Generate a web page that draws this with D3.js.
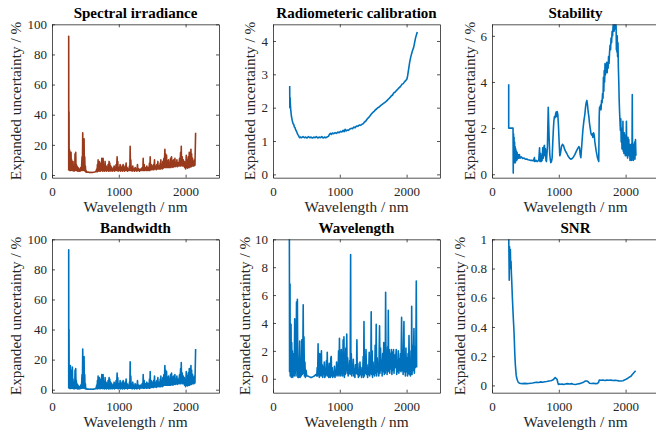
<!DOCTYPE html>
<html lang="en">
<head>
<meta charset="UTF-8">
<title>Expanded uncertainty components</title>
<script src="https://d3js.org/d3.v7.min.js"></script>
<style>
  body { margin: 0; background: #fff; }
  svg { display: block; }
  .axis path, .axis line { stroke: #262626; stroke-width: 0.8; fill: none; }
  .title { font-weight: bold; font-size: 15px; fill: #000; }
  .label { font-size: 15.3px; fill: #262626; }
</style>
</head>
<body>
<svg id="chart" width="656" height="434"></svg>
<script>
const serif = "'Liberation Serif', 'Times New Roman', Times, serif";
const xTicks = [0, 1000, 2000];
const ticksPercent = [0, 20, 40, 60, 80, 100];
const ticksCal = [0, 1, 2, 3, 4];
const ticksStab = [0, 2, 4, 6];
const ticksWl = [0, 2, 4, 6, 8, 10];
const ticksSnr = [0, 0.2, 0.4, 0.6, 0.8, 1];

// [wavelength nm, expanded uncertainty %]
const spectralIrradiance = [[250,3],[250,92],[252,5],[255,42],[257,4],[260,17],[263,3],[266,16],[270,5],[275,14],[280,3],[285,15],[290,4],[295,10],[300,3],[305,8],[310,3],[315,9],[320,3],[325,5],[330,2.5],[335,6],[340,3],[345,14],[350,3],[355,15],[360,4],[365,7],[370,3],[375,6],[380,2.5],[390,5],[400,2.5],[410,4],[420,2.5],[430,5],[440,3],[450,12],[455,3],[460,28],[465,5],[470,20],[475,3],[480,24],[485,4],[490,12],[495,2.5],[500,6],[505,2],[510,3],[520,1.8],[540,2],[560,1.6],[580,1.8],[600,1.6],[620,1.8],[640,2],[660,2.5],[670,4],[675,2],[680,7],[685,2.5],[690,10],[695,3],[700,5],[705,2.5],[710,9],[715,3],[720,6],[725,2.5],[735,8],[740,3],[745,11],[750,3],[755,6],[760,2.5],[765,11],[770,3],[780,5],[785,2.5],[795,9],[800,3],[810,6],[815,2.5],[825,5],[830,3],[840,7],[845,2.5],[855,9],[860,3],[865,8],[870,2.5],[880,6],[885,3],[895,5],[900,2.5],[910,4],[920,3],[930,6],[935,2.5],[945,5],[950,3],[960,7],[965,3],[975,12],[980,3],[985,9],[990,2.5],[1000,5],[1010,3],[1020,7],[1025,2.5],[1035,5],[1040,3],[1050,6],[1055,2.5],[1065,7],[1070,3],[1080,5],[1085,2.5],[1095,6],[1100,3],[1110,8],[1115,3],[1125,5],[1130,2.5],[1140,4],[1150,3],[1160,6],[1165,3],[1170,19],[1175,3],[1180,10],[1185,3],[1195,5],[1200,2.5],[1210,6],[1215,3],[1225,4],[1235,2.5],[1245,5],[1250,3],[1265,4],[1270,2.5],[1280,7],[1285,3],[1300,4],[1310,2.5],[1325,4],[1335,3],[1350,5],[1360,3],[1365,11],[1370,3],[1380,7],[1385,3],[1400,5],[1410,3],[1420,6],[1425,3],[1440,5],[1450,3],[1460,8],[1465,3],[1470,12],[1475,3.5],[1485,7],[1490,3.5],[1500,6],[1510,3.5],[1520,7],[1525,3.5],[1535,10],[1540,4],[1550,6],[1560,3.5],[1570,7],[1575,4],[1585,9],[1590,4],[1600,6],[1610,4],[1620,8],[1625,4],[1630,10],[1635,4.5],[1645,7],[1650,4],[1660,9],[1665,4.5],[1675,11],[1680,5],[1690,17],[1695,5],[1700,14],[1705,5],[1715,13],[1720,5],[1730,9],[1735,5],[1745,10],[1750,5],[1760,8],[1765,5],[1775,11],[1780,5],[1790,12],[1795,5.5],[1805,9],[1810,5],[1820,10],[1825,5.5],[1840,11],[1845,5.5],[1855,8],[1860,6],[1870,10],[1875,5.5],[1890,8],[1895,6],[1910,11],[1915,6],[1925,15],[1930,6],[1935,19],[1940,7],[1950,12],[1955,6],[1965,10],[1970,6],[1980,9],[1985,5],[1995,8],[2000,4],[2010,13],[2015,5],[2025,10],[2030,4.5],[2040,12],[2045,5],[2055,15],[2060,5],[2065,10],[2070,5.5],[2080,17],[2085,5.5],[2090,14],[2095,6],[2105,11],[2110,6],[2120,9],[2125,6],[2135,10],[2140,6.5],[2150,28]];

const radiometricCalibration = [[250,2.65],[252,2.0],[256,2.3],[260,2.1],[265,1.95],[270,1.85],[275,1.75],[282,1.68],[290,1.6],[300,1.52],[310,1.5],[320,1.42],[330,1.4],[340,1.33],[350,1.3],[360,1.25],[370,1.2],[380,1.17],[390,1.13],[400,1.1],[410,1.12],[430,1.1],[450,1.13],[470,1.1],[490,1.12],[510,1.09],[530,1.13],[550,1.1],[570,1.12],[590,1.09],[610,1.12],[630,1.1],[650,1.13],[670,1.09],[690,1.12],[710,1.1],[730,1.13],[750,1.09],[770,1.12],[790,1.1],[810,1.12],[830,1.14],[845,1.2],[860,1.23],[875,1.2],[890,1.24],[910,1.22],[930,1.25],[950,1.23],[970,1.27],[990,1.25],[1010,1.29],[1030,1.27],[1050,1.32],[1065,1.28],[1080,1.35],[1095,1.3],[1110,1.33],[1130,1.32],[1150,1.36],[1170,1.38],[1190,1.37],[1210,1.42],[1230,1.4],[1250,1.45],[1270,1.44],[1290,1.48],[1310,1.47],[1330,1.5],[1350,1.52],[1370,1.57],[1390,1.6],[1410,1.66],[1430,1.7],[1450,1.75],[1470,1.8],[1490,1.85],[1510,1.88],[1530,1.93],[1550,1.96],[1570,2.0],[1590,2.02],[1610,2.06],[1630,2.09],[1650,2.12],[1670,2.15],[1690,2.18],[1710,2.22],[1730,2.26],[1750,2.3],[1770,2.35],[1790,2.38],[1810,2.45],[1830,2.47],[1850,2.52],[1870,2.56],[1890,2.6],[1910,2.64],[1930,2.7],[1950,2.72],[1970,2.78],[1990,2.82],[2005,2.86],[2015,2.95],[2030,3.15],[2045,3.35],[2060,3.5],[2075,3.62],[2090,3.72],[2105,3.8],[2120,3.95],[2135,4.1],[2150,4.2],[2160,4.27]];

const stability = [[250,3.9],[250,2.0],[315,2.0],[318,0.05],[322,1.75],[326,0.6],[330,1.6],[334,0.5],[338,1.4],[342,0.6],[346,1.2],[350,0.5],[355,1.1],[360,0.6],[365,1.0],[370,0.6],[375,0.95],[380,0.65],[390,0.85],[400,0.7],[410,0.85],[420,0.7],[440,0.75],[460,0.68],[480,0.7],[500,0.65],[520,0.66],[540,0.63],[560,0.62],[580,0.6],[600,0.6],[620,0.58],[635,0.72],[640,0.55],[660,0.6],[675,0.55],[700,0.6],[712,1.15],[718,0.55],[728,0.9],[735,0.55],[750,0.6],[760,1.15],[768,0.7],[778,1.2],[785,1.25],[792,0.8],[800,1.1],[808,0.6],[815,0.55],[830,1.2],[842,2.9],[848,2.3],[856,1.5],[864,0.9],[872,0.65],[880,0.5],[890,0.55],[900,0.7],[910,1.4],[918,1.9],[926,2.3],[935,2.5],[945,2.45],[952,2.6],[960,2.7],[968,2.5],[975,2.72],[985,2.6],[995,2.1],[1005,1.4],[1015,0.8],[1025,0.9],[1040,1.2],[1055,1.3],[1070,1.25],[1085,1.1],[1100,1.0],[1120,0.9],[1140,0.78],[1160,0.7],[1180,0.65],[1200,0.68],[1220,0.75],[1240,0.85],[1260,0.98],[1280,1.1],[1300,1.2],[1310,1.15],[1320,0.85],[1330,0.72],[1345,1.3],[1360,1.9],[1375,2.3],[1390,2.6],[1400,2.9],[1410,3.1],[1420,3.2],[1430,3.0],[1440,2.7],[1450,2.5],[1460,2.2],[1470,2.0],[1480,1.8],[1490,1.7],[1500,1.75],[1510,1.6],[1520,1.8],[1530,1.7],[1540,1.4],[1550,1.2],[1560,1.0],[1570,0.85],[1580,0.7],[1590,0.62],[1598,0.55],[1605,2.5],[1610,2.9],[1618,2.8],[1625,3.0],[1632,2.8],[1640,3.2],[1648,3.1],[1655,3.5],[1662,3.3],[1668,4.2],[1674,3.6],[1680,4.5],[1686,4.0],[1692,4.8],[1698,4.3],[1705,4.6],[1712,4.5],[1718,4.85],[1724,4.4],[1730,4.8],[1738,4.6],[1745,5.1],[1752,4.8],[1760,5.3],[1768,5.6],[1775,5.4],[1782,5.9],[1790,5.7],[1798,6.2],[1805,6.0],[1812,6.4],[1820,6.6],[1828,6.2],[1835,6.5],[1842,6.3],[1850,6.6],[1858,6.4],[1862,5.4],[1866,6.0],[1870,5.3],[1875,6.0],[1880,5.1],[1886,5.7],[1892,4.6],[1898,4.0],[1904,3.2],[1910,2.7],[1916,2.3],[1922,1.9],[1928,2.4],[1934,1.4],[1940,2.0],[1946,1.1],[1950,1.8],[1956,1.2],[1960,2.3],[1965,1.0],[1970,1.6],[1975,0.9],[1980,1.8],[1985,1.1],[1990,1.5],[1996,0.8],[2000,1.7],[2006,1.0],[2012,2.3],[2018,0.8],[2024,1.4],[2030,0.7],[2036,1.6],[2042,1.0],[2048,1.5],[2054,0.8],[2060,1.3],[2066,0.6],[2072,1.2],[2078,0.7],[2084,1.3],[2090,0.6],[2096,1.0],[2100,3.45],[2104,0.7],[2110,1.2],[2116,0.6],[2122,1.3],[2128,0.8],[2135,1.4],[2140,0.65],[2148,1.5],[2155,0.8]];

const bandwidth = [[250,1],[250,93],[252,2],[255,40],[257,1],[260,16],[263,0.8],[266,14],[270,2],[275,16],[280,0.8],[285,13],[290,1.5],[295,9],[300,0.8],[305,15],[310,1],[315,7],[320,0.8],[325,4],[330,0.5],[335,5],[340,1],[345,13],[350,0.8],[355,14],[360,2],[365,6],[370,0.8],[375,4],[380,0.5],[390,3],[400,0.5],[410,2],[420,0.6],[430,3],[440,1],[450,10],[455,1],[460,27],[465,3],[470,18],[475,1],[480,22],[485,2],[490,10],[495,0.6],[500,4],[505,0.5],[510,1],[520,0.4],[540,0.5],[560,0.3],[580,0.4],[600,0.3],[620,0.4],[640,0.5],[660,1],[670,3],[675,0.5],[680,6],[685,0.8],[690,9],[695,1],[700,4],[705,0.6],[710,8],[715,1],[720,5],[725,0.6],[735,7],[740,1],[745,10],[750,1],[755,5],[760,0.6],[765,10],[770,1],[780,4],[785,0.5],[795,8],[800,1],[810,5],[815,0.5],[825,4],[830,1],[840,6],[845,0.5],[855,8],[860,1],[865,7],[870,0.5],[880,5],[885,1],[895,4],[900,0.5],[910,3],[920,1],[930,5],[935,0.5],[945,4],[950,1],[960,6],[965,1],[975,11],[980,1],[985,8],[990,0.5],[1000,4],[1010,1],[1020,6],[1025,0.5],[1035,4],[1040,1],[1050,5],[1055,0.5],[1065,6],[1070,1],[1080,4],[1085,0.5],[1095,5],[1100,1],[1110,7],[1115,1],[1125,4],[1130,0.5],[1140,3],[1150,1],[1160,5],[1165,1],[1170,18.5],[1175,1],[1180,9],[1185,1],[1195,4],[1200,0.5],[1210,5],[1215,1],[1225,3],[1235,0.5],[1245,4],[1250,1],[1265,3],[1270,0.5],[1280,6],[1285,1],[1300,3],[1310,0.5],[1325,3],[1335,1],[1350,4],[1360,1],[1365,10],[1370,1],[1380,6],[1385,1],[1400,4],[1410,1],[1420,5],[1425,1],[1440,4],[1450,1],[1460,7],[1465,1],[1470,12],[1475,1.5],[1485,6],[1490,1.5],[1500,5],[1510,1.5],[1520,6],[1525,1.5],[1535,9],[1540,2],[1550,5],[1560,1.5],[1570,6],[1575,2],[1585,8],[1590,2],[1600,5],[1610,2],[1620,7],[1625,2],[1630,9],[1635,2.5],[1645,6],[1650,2],[1660,8],[1665,2.5],[1675,10],[1680,3],[1690,16],[1695,3],[1700,13],[1705,3],[1715,12],[1720,3],[1730,8],[1735,3],[1745,9],[1750,3],[1760,7],[1765,3],[1775,10],[1780,3],[1790,11],[1795,3.5],[1805,8],[1810,3],[1820,9],[1825,3.5],[1840,10],[1845,3.5],[1855,7],[1860,4],[1870,9],[1875,3.5],[1890,7],[1895,4],[1910,10],[1915,4],[1925,14],[1930,4],[1935,18],[1940,5],[1950,11],[1955,4],[1965,9],[1970,4],[1980,8],[1985,3],[1995,7],[2000,2],[2010,12],[2015,3],[2025,9],[2030,2.5],[2040,11],[2045,3],[2055,14],[2060,3],[2065,9],[2070,3.5],[2080,16],[2085,3.5],[2090,13],[2095,4],[2105,10],[2110,4],[2120,8],[2125,4],[2135,9],[2140,4.5],[2150,27]];

const wavelengthUnc = [[245,10.5],[248,0.5],[252,3.9],[255,6.8],[258,0.2],[262,2.5],[266,0.3],[270,3.9],[275,0.1],[280,2.6],[285,0.4],[290,2.0],[295,0.1],[300,1.8],[305,0.3],[312,1.5],[318,0.2],[325,4.3],[330,0.4],[338,2.2],[345,0.2],[352,5.5],[358,0.6],[365,5.7],[372,0.1],[378,1.2],[385,0.1],[392,0.8],[400,2.7],[406,0.1],[414,1.0],[422,0.2],[432,2.8],[438,0.3],[446,1.5],[452,5.3],[458,0.4],[464,3.0],[470,0.2],[478,1.2],[485,0.1],[495,0.6],[505,0.2],[520,0.2],[540,0.15],[560,0.1],[580,0.1],[600,0.15],[620,0.2],[640,0.3],[655,0.2],[662,0.8],[668,0.2],[675,2.5],[680,0.3],[688,1.2],[694,0.1],[700,1.8],[706,0.2],[712,1.4],[718,0.3],[725,2.0],[730,0.2],[738,1.0],[745,0.1],[752,0.8],[760,0.3],[768,1.2],[775,0.1],[782,0.6],[790,0.2],[800,1.3],[806,0.3],[812,1.9],[818,0.2],[826,0.9],[834,0.1],[842,1.1],[850,0.4],[858,0.1],[866,1.5],[872,1.6],[878,0.2],[886,0.8],[894,0.1],[902,0.5],[910,0.2],[920,0.9],[928,0.1],[936,0.4],[944,0.3],[952,1.2],[958,0.2],[966,0.6],[974,0.3],[982,2.0],[988,0.2],[995,2.9],[1000,0.3],[1008,1.5],[1015,0.2],[1022,2.1],[1028,0.4],[1036,1.2],[1042,0.2],[1050,2.8],[1056,0.4],[1062,3.0],[1068,0.1],[1075,1.6],[1082,0.3],[1090,2.2],[1096,0.6],[1104,3.2],[1110,0.4],[1118,1.5],[1125,0.2],[1132,0.9],[1140,0.4],[1148,1.3],[1155,0.3],[1162,8.9],[1166,0.5],[1172,1.8],[1180,0.2],[1188,0.9],[1195,0.4],[1202,1.4],[1210,0.2],[1218,0.7],[1226,0.1],[1234,1.0],[1242,0.4],[1250,0.6],[1256,2.8],[1262,0.3],[1270,1.1],[1278,0.1],[1286,0.5],[1294,0.2],[1302,1.2],[1310,0.3],[1318,0.8],[1326,0.1],[1334,0.6],[1342,0.3],[1350,1.6],[1356,0.1],[1362,4.1],[1368,0.2],[1376,1.2],[1384,0.4],[1392,2.1],[1400,0.3],[1408,1.0],[1416,0.1],[1424,0.8],[1432,0.3],[1440,1.9],[1448,0.2],[1456,1.1],[1464,0.4],[1470,4.8],[1476,0.3],[1484,2.0],[1490,0.1],[1498,1.2],[1506,0.3],[1514,0.8],[1522,0.2],[1530,2.4],[1538,0.4],[1545,3.9],[1552,0.2],[1560,1.5],[1568,0.5],[1576,1.0],[1584,0.2],[1595,3.8],[1602,0.4],[1610,2.2],[1618,0.6],[1626,1.3],[1634,0.2],[1642,1.8],[1650,0.5],[1658,2.6],[1666,0.3],[1674,1.6],[1680,0.4],[1686,6.2],[1692,0.6],[1700,1.8],[1708,0.3],[1716,2.3],[1722,0.5],[1726,4.9],[1732,0.6],[1740,2.1],[1748,0.4],[1756,1.8],[1764,0.7],[1772,2.1],[1780,0.3],[1788,1.9],[1796,0.6],[1804,2.1],[1812,0.4],[1820,1.7],[1828,0.8],[1836,1.5],[1845,2.1],[1852,0.3],[1860,1.2],[1868,0.5],[1876,2.0],[1884,0.4],[1892,1.4],[1900,0.6],[1908,1.8],[1916,0.5],[1925,4.4],[1932,0.6],[1940,2.0],[1948,0.3],[1960,4.1],[1966,0.5],[1974,1.6],[1982,0.2],[1990,2.2],[1998,0.5],[2006,1.5],[2014,0.2],[2022,1.8],[2030,0.4],[2036,3.1],[2042,0.3],[2050,1.2],[2058,0.2],[2066,2.0],[2072,0.5],[2076,5.2],[2082,0.3],[2090,2.4],[2098,0.6],[2104,1.7],[2110,3.6],[2116,0.4],[2124,2.3],[2130,0.8],[2138,1.6],[2145,7.0],[2150,0.8]];

const snr = [[250,1.05],[255,0.85],[258,0.72],[262,0.95],[268,0.85],[275,0.93],[280,0.8],[285,0.85],[290,0.77],[295,0.72],[300,0.66],[305,0.6],[310,0.55],[315,0.5],[320,0.45],[325,0.41],[330,0.36],[335,0.3],[340,0.23],[345,0.18],[350,0.14],[355,0.11],[362,0.07],[370,0.05],[380,0.035],[395,0.02],[410,0.015],[430,0.013],[460,0.012],[490,0.014],[520,0.012],[550,0.013],[580,0.015],[610,0.016],[640,0.02],[670,0.022],[700,0.02],[730,0.024],[760,0.022],[790,0.025],[820,0.027],[850,0.03],[880,0.032],[900,0.035],[920,0.04],[935,0.048],[945,0.054],[955,0.05],[965,0.045],[975,0.04],[985,0.02],[995,0.006],[1010,0.01],[1030,0.008],[1050,0.01],[1070,0.006],[1100,0.01],[1130,0.012],[1160,0.01],[1190,0.012],[1220,0.008],[1250,0.006],[1280,0.01],[1310,0.012],[1340,0.016],[1370,0.022],[1400,0.03],[1420,0.03],[1440,0.025],[1460,0.015],[1490,0.013],[1520,0.015],[1550,0.012],[1580,0.014],[1595,0.02],[1605,0.036],[1630,0.035],[1660,0.037],[1690,0.034],[1720,0.036],[1750,0.035],[1780,0.036],[1810,0.034],[1840,0.035],[1870,0.033],[1900,0.031],[1930,0.03],[1960,0.032],[1990,0.038],[2020,0.045],[2050,0.055],[2080,0.063],[2100,0.075],[2120,0.085],[2140,0.095],[2150,0.1]];

const panels = [
  { title: "Spectral irradiance", data: spectralIrradiance, ticks: ticksPercent, yMin: -1.8, yMax: 100, color: "#993a1c", col: 0, row: 0, labelOff: 31 },
  { title: "Radiometeric calibration", data: radiometricCalibration, ticks: ticksCal, yMin: -0.1, yMax: 4.5, color: "#0072bd", col: 1, row: 0, labelOff: 18.5 },
  { title: "Stability", data: stability, ticks: ticksStab, yMin: -0.15, yMax: 6.5, color: "#0072bd", col: 2, row: 0, labelOff: 17 },
  { title: "Bandwidth", data: bandwidth, ticks: ticksPercent, yMin: -2, yMax: 100, color: "#0072bd", col: 0, row: 1, labelOff: 31 },
  { title: "Wavelength", data: wavelengthUnc, ticks: ticksWl, yMin: -1, yMax: 10, color: "#0072bd", col: 1, row: 1, labelOff: 23.5 },
  { title: "SNR", data: snr, ticks: ticksSnr, yMin: -0.05, yMax: 1, color: "#0072bd", col: 2, row: 1, labelOff: 27.5 }
];

const colLeft = [52, 273, 492];
const rowTop = [24.3, 239.3];
const w = 167, h = 153.4;
const svg = d3.select("#chart");

panels.forEach((p, i) => {
  const g = svg.append("g").attr("transform", `translate(${colLeft[p.col]},${rowTop[p.row]})`);
  const x = d3.scaleLinear().domain([0, 2500]).range([0, w]);
  const y = d3.scaleLinear().domain([p.yMin, p.yMax]).range([h, 0]);

  g.append("clipPath").attr("id", "clip" + i)
    .append("rect").attr("width", w).attr("height", h);

  g.append("path")
    .datum(p.data)
    .attr("clip-path", `url(#clip${i})`)
    .attr("fill", "none")
    .attr("stroke", p.color)
    .attr("stroke-width", 1.6)
    .attr("stroke-linejoin", "round")
    .attr("d", d3.line().x(d => x(d[0])).y(d => y(d[1])));

  const axes = [
    g.append("g").attr("transform", `translate(0,${h})`)
      .call(d3.axisBottom(x).tickValues(xTicks).tickSizeInner(-3).tickSizeOuter(0).tickPadding(9.2).tickFormat(d3.format("d"))),
    g.append("g")
      .call(d3.axisTop(x).tickValues(xTicks).tickSizeInner(-3).tickSizeOuter(0).tickFormat("")),
    g.append("g")
      .call(d3.axisLeft(y).tickValues(p.ticks).tickSizeInner(-3).tickSizeOuter(0).tickPadding(5).tickFormat(d3.format("~g"))),
    g.append("g").attr("transform", `translate(${w},0)`)
      .call(d3.axisRight(y).tickValues(p.ticks).tickSizeInner(-3).tickSizeOuter(0).tickFormat(""))
  ];
  axes.forEach(a => {
    a.attr("class", "axis").attr("font-family", serif).attr("font-size", 13);
    a.selectAll("text").attr("fill", "#262626");
  });

  g.append("text").attr("class", "title").attr("font-family", serif)
    .attr("x", w / 2).attr("y", -6)
    .attr("text-anchor", "middle").text(p.title);
  g.append("text").attr("class", "label").attr("font-family", serif)
    .attr("x", w / 2).attr("y", h + 34)
    .attr("text-anchor", "middle").text("Wavelength / nm");
  g.append("text").attr("class", "label").attr("font-family", serif)
    .attr("transform", `translate(${-p.labelOff},${h / 2}) rotate(-90)`)
    .attr("text-anchor", "middle").text("Expanded uncertainty / %");
});
</script>
</body>
</html>
